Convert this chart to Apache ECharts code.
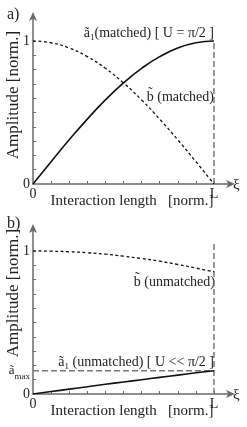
<!DOCTYPE html>
<html>
<head>
<meta charset="utf-8">
<script src="https://cdn.jsdelivr.net/npm/echarts@6/dist/echarts.min.js"></script>
<style>
html,body{margin:0;padding:0;background:#fff;}
#c{width:247px;height:427px;}
</style>
</head>
<body>
<div id="c"></div>
<script>
// ---- data (normalized interaction length 0..L, L = 1) ----
var xi = [0, 0.1, 0.2, 0.3, 0.4, 0.5, 0.6, 0.7, 0.8, 0.9, 1.0];
// panel a) matched
var aMatched = [0, 0.156, 0.309, 0.454, 0.588, 0.707, 0.809, 0.891, 0.951, 0.988, 1.0];
var bMatched = [1.0, 0.988, 0.951, 0.891, 0.809, 0.707, 0.588, 0.454, 0.309, 0.156, 0];
// panel b) unmatched
var bUnmatched = [1.0, 0.998, 0.994, 0.987, 0.977, 0.963, 0.947, 0.928, 0.905, 0.880, 0.853];
var aUnmatched = [0, 0.017, 0.034, 0.051, 0.068, 0.084, 0.100, 0.116, 0.132, 0.148, 0.163];
var aMax = 0.163;
var L = 1;
var tickValues = [0.1, 0.2, 0.3, 0.4, 0.5, 0.6, 0.7, 0.8, 0.9, 1.0];
var yLabelsA = [0, 1];
var yLabelsB = [0, aMax, 1];
var xLabels = [0, L];

function pairs(xs, ys) { return xs.map(function (x, i) { return [x, ys[i]]; }); }

var AX = '#6a6a6a';
var FONT = '"Liberation Serif", "DejaVu Serif", serif';
var TXT = '#222';

var rich = {
  t: { fontFamily: FONT, fontSize: 14, color: TXT, lineHeight: 18 },
  s: { fontFamily: FONT, fontSize: 9, color: TXT, lineHeight: 10, verticalAlign: 'bottom' }
};

function xAxisCfg(idx) {
  return {
    gridIndex: idx, type: 'value', min: 0, max: 1.094,
    name: 'Interaction length   [norm.]', nameLocation: 'middle', nameGap: 10, nameMoveOverlap: false,
    nameTextStyle: { fontFamily: FONT, fontSize: 15, color: TXT },
    axisLine: { lineStyle: { color: AX, width: 1.5 }, symbol: ['none', 'arrow'], symbolSize: [6, 9], symbolOffset: [0, 4] },
    axisTick: { inside: true, length: 3, lineStyle: { color: AX }, customValues: tickValues },
    axisLabel: {
      customValues: xLabels, margin: 3, fontFamily: FONT, fontSize: 14, color: TXT,
      formatter: function (v) { return v === 0 ? '0' : 'L'; }
    },
    splitLine: { show: false }
  };
}
function yAxisCfg(idx, max, labels, shift) {
  return {
    gridIndex: idx, type: 'value', min: 0, max: max,
    name: 'Amplitude [norm.]', nameLocation: 'middle', nameGap: 11, nameRotate: 90, nameMoveOverlap: false,
    nameTextStyle: { fontFamily: FONT, fontSize: 17, color: TXT, padding: [0, 0, 0, shift * 2] },
    axisLine: { lineStyle: { color: AX, width: 1.5 }, symbol: ['none', 'arrow'], symbolSize: [6, 9], symbolOffset: [0, 4] },
    axisTick: { inside: true, length: 3, lineStyle: { color: AX }, customValues: tickValues },
    axisLabel: {
      customValues: labels, margin: 3, fontFamily: FONT, fontSize: 14, color: TXT,
      formatter: function (v) {
        if (v === 0) return '0';
        if (v === 1) return '1';
        return '{t|ã}{s|max}';
      },
      rich: {
        t: { fontFamily: FONT, fontSize: 13, color: TXT, lineHeight: 20 },
        s: { fontFamily: FONT, fontSize: 9, color: TXT, lineHeight: 9, verticalAlign: 'bottom' }
      }
    },
    splitLine: { show: false }
  };
}

function solid(gi, data) {
  return { type: 'line', xAxisIndex: gi, yAxisIndex: gi, data: data, smooth: true, showSymbol: false,
    lineStyle: { color: '#111', width: 1.6 }, silent: true, z: 5 };
}
function dotted(gi, data) {
  return { type: 'line', xAxisIndex: gi, yAxisIndex: gi, data: data, smooth: true, showSymbol: false,
    lineStyle: { color: '#111', width: 1.3, type: [3, 2.5] }, silent: true, z: 5 };
}
function guide(gi, data) {
  return { type: 'line', xAxisIndex: gi, yAxisIndex: gi, data: data, showSymbol: false,
    lineStyle: { color: '#777', width: 1.5, type: [6, 3] }, silent: true, z: 3 };
}

function label(x, y, text, align) {
  return { type: 'text', x: x, y: y, style: { text: text, rich: rich, align: align || 'right', verticalAlign: 'middle',
    fontFamily: FONT, fontSize: 14, fill: TXT } };
}

var chart = echarts.init(document.getElementById('c'), null, { renderer: 'canvas' });
chart.setOption({
  animation: false,
  backgroundColor: '#fff',
  grid: [
    { left: 33, right: 16, top: 16, bottom: 243, containLabel: false, outerBoundsMode: 'none' },
    { left: 33, right: 16, top: 228, bottom: 33, containLabel: false, outerBoundsMode: 'none' }
  ],
  xAxis: [xAxisCfg(0), xAxisCfg(1)],
  yAxis: [yAxisCfg(0, 1.175, yLabelsA, 5), yAxisCfg(1, 1.16, yLabelsB, 18)],
  series: [
    solid(0, pairs(xi, aMatched)),
    dotted(0, pairs(xi, bMatched)),
    guide(0, [[L, 0], [L, 1]]),
    dotted(1, pairs(xi, bUnmatched)),
    solid(1, pairs(xi, aUnmatched)),
    guide(1, [[0, aMax], [L, aMax]]),
    guide(1, [[L, 0], [L, 1.06]])
  ],
  graphic: [
    { type: 'text', x: 7, y: 15, style: { text: 'a)', fontFamily: FONT, fontSize: 16, fill: TXT, verticalAlign: 'middle' } },
    { type: 'text', x: 7, y: 224, style: { text: 'b)', fontFamily: FONT, fontSize: 16, fill: TXT, verticalAlign: 'middle' } },
    label(214, 33, '{t|ã}{s|1}{t|(matched) [ U = π/2 ]}'),
    label(214, 97, '{t|b\u0303 (matched)}'),
    label(215, 282, '{t|b\u0303 (unmatched)}'),
    label(214, 362, '{t|ã}{s|1}{t| (unmatched) [ U << π/2 ]}'),
    { type: 'text', x: 233, y: 185, style: { text: 'ξ', fontFamily: FONT, fontSize: 15, fill: TXT, verticalAlign: 'middle' } },
    { type: 'text', x: 233, y: 395, style: { text: 'ξ', fontFamily: FONT, fontSize: 15, fill: TXT, verticalAlign: 'middle' } }
  ]
});
</script>
</body>
</html>
